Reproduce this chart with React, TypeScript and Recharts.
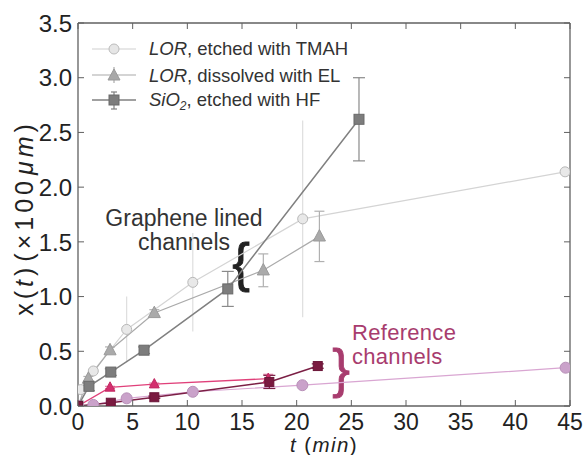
import React from 'react';
import { ComposedChart, Line, XAxis, YAxis, ErrorBar, Customized } from 'recharts';

const xTickValues = [0, 5, 10, 15, 20, 25, 30, 35, 40, 45];
const yTickValues = [0, 0.5, 1, 1.5, 2, 2.5, 3, 3.5];
const yTickLabels = ['0.0', '0.5', '1.0', '1.5', '2.0', '2.5', '3.0', '3.5'];

const lorTmahTime = [0.25, 1.4, 4.45, 10.5, 20.55, 44.55];
const lorTmahDist = [0.15, 0.32, 0.7, 1.13, 1.71, 2.14];
const lorTmahErr = [0.02, 0.04, 0.3, 0.45, 0.9, 0];

const lorElTime = [0, 0.95, 2.93, 6.98, 16.95, 22.08];
const lorElDist = [0, 0.25, 0.51, 0.85, 1.24, 1.55];
const lorElErr = [0, 0.02, 0.03, 0.03, 0.15, 0.23];

const sio2HfTime = [0, 1.0, 3.0, 6.04, 13.7, 25.7];
const sio2HfDist = [0, 0.18, 0.31, 0.51, 1.07, 2.62];
const sio2HfErr = [0, 0.04, 0.03, 0.03, 0.16, 0.38];

const refTmahTime = [0, 1.4, 4.45, 10.5, 20.52, 44.6];
const refTmahDist = [0, 0.01, 0.07, 0.13, 0.19, 0.35];
const refTmahErr = [0, 0, 0, 0, 0, 0];

const refElTime = [0, 2.93, 6.98, 17.4];
const refElDist = [0, 0.17, 0.2, 0.25];
const refElErr = [0, 0.01, 0.01, 0.04];

const refHfTime = [0, 3.0, 6.98, 17.5, 21.93];
const refHfDist = [0, 0.03, 0.08, 0.22, 0.365];
const refHfErr = [0, 0, 0.01, 0.06, 0.02];

const toRows = (t: number[], x: number[], e: number[]) =>
  t.map((v, i) => ({ t: v, x: x[i], err: e[i] }));

const lorTmahRows = toRows(lorTmahTime, lorTmahDist, lorTmahErr);
const lorElRows = toRows(lorElTime, lorElDist, lorElErr);
const sio2HfRows = toRows(sio2HfTime, sio2HfDist, sio2HfErr);
const refTmahRows = toRows(refTmahTime, refTmahDist, refTmahErr);
const refElRows = toRows(refElTime, refElDist, refElErr);
const refHfRows = toRows(refHfTime, refHfDist, refHfErr);

const FONT = '"Liberation Sans", Arial, Helvetica, sans-serif';
const AXIS = '#606060';
const TXT = '#222';

const circleDot = (fill: string, stroke: string, r: number) => (p: any) => (
  <circle key={`c${p.index}`} cx={p.cx} cy={p.cy} r={r} fill={fill} stroke={stroke} strokeWidth={1} />
);
const triDot = (fill: string, stroke: string, s: number) => (p: any) => (
  <polygon
    key={`t${p.index}`}
    points={`${p.cx},${p.cy - s * 0.62} ${p.cx - s * 0.55},${p.cy + s * 0.42} ${p.cx + s * 0.55},${p.cy + s * 0.42}`}
    fill={fill}
    stroke={stroke}
    strokeWidth={1}
  />
);
const sqDot = (fill: string, stroke: string, s: number) => (p: any) => (
  <rect key={`s${p.index}`} x={p.cx - s / 2} y={p.cy - s / 2} width={s} height={s} fill={fill} stroke={stroke} strokeWidth={1} />
);

const BottomTick = (p: any) => (
  <g>
    <line x1={p.x} x2={p.x} y1={p.y} y2={p.y - 6} stroke={AXIS} strokeWidth={1} />
    <text x={p.x} y={p.y + 23.5} textAnchor="middle" fontSize={23} fill={TXT} fontFamily={FONT}>
      {p.payload.value}
    </text>
  </g>
);
const TopTick = (p: any) => (
  <line x1={p.x} x2={p.x} y1={p.y} y2={p.y + 6} stroke={AXIS} strokeWidth={1} />
);
const LeftTick = (p: any) => {
  const i = yTickValues.indexOf(p.payload.value);
  return (
    <g>
      <line x1={p.x} x2={p.x + 6} y1={p.y} y2={p.y} stroke={AXIS} strokeWidth={1} />
      <text x={p.x - 6} y={p.y + 8.7} textAnchor="end" fontSize={24} fill={TXT} fontFamily={FONT}>
        {i >= 0 ? yTickLabels[i] : p.payload.value}
      </text>
    </g>
  );
};
const RightTick = (p: any) => (
  <line x1={p.x} x2={p.x - 6} y1={p.y} y2={p.y} stroke={AXIS} strokeWidth={1} />
);

const Annotations = () => (
  <g fontFamily={FONT}>
    {/* axis titles */}
    <text x={324} y={451.5} textAnchor="middle" fontSize={20.5} fill={TXT} letterSpacing={1.4}>
      <tspan fontStyle="italic">t</tspan> (<tspan fontStyle="italic">min</tspan>)
    </text>
    <text x={33} y={218} textAnchor="middle" fontSize={25} fill={TXT} letterSpacing={4} transform="rotate(-90 33 218)">
      x(<tspan fontStyle="italic">t</tspan>)<tspan dx={2}>(×100</tspan><tspan dx={2} fontStyle="italic">μm</tspan>)
    </text>

    {/* legend */}
    <g>
      <line x1={92} x2={136} y1={49} y2={49} stroke="#cfcfcf" strokeWidth={1.2} />
      <circle cx={114} cy={49} r={5} fill="#e6e6e6" stroke="#bcbcbc" />
      <text x={149} y={55} fontSize={18.5} fill="#333">
        <tspan fontStyle="italic">LOR</tspan>, etched with TMAH
      </text>

      <line x1={92} x2={136} y1={75} y2={75} stroke="#aaaaaa" strokeWidth={1.2} />
      <line x1={114} x2={114} y1={67} y2={83} stroke="#aaaaaa" strokeWidth={1.2} />
      <polygon points="114,69 108,80 120,80" fill="#a8a8a8" stroke="#9a9a9a" />
      <text x={149} y={81.5} fontSize={18.5} fill="#333">
        <tspan fontStyle="italic">LOR</tspan>, dissolved with EL
      </text>

      <line x1={92} x2={136} y1={100} y2={100} stroke="#808080" strokeWidth={1.5} />
      <line x1={114} x2={114} y1={92} y2={109} stroke="#808080" strokeWidth={1.2} />
      <line x1={111} x2={117} y1={92} y2={92} stroke="#808080" strokeWidth={1.2} />
      <line x1={111} x2={117} y1={109} y2={109} stroke="#808080" strokeWidth={1.2} />
      <rect x={109} y={95} width={10} height={10} fill="#7d7d7d" stroke="#6a6a6a" />
      <text x={149} y={106} fontSize={18.5} fill="#333">
        <tspan fontStyle="italic">SiO</tspan>
        <tspan fontStyle="italic" fontSize={12} dy={4}>2</tspan>
        <tspan dy={-4}>, etched with HF</tspan>
      </text>
    </g>

    {/* group annotations */}
    <text x={184} y={226} textAnchor="middle" fontSize={23} fill="#333">
      <tspan x={184} y={226}>Graphene lined</tspan>
      <tspan x={184} y={250}>channels</tspan>
    </text>
    <text x={241} y={281} textAnchor="middle" fontSize={53} fill="#222" stroke="#222" strokeWidth={0.8}>{'{'}</text>

    <text x={352} y={340} fontSize={22} fill="#a83c6e" letterSpacing={0.3}>
      <tspan x={352} y={340}>Reference</tspan>
      <tspan x={352} y={364}>channels</tspan>
    </text>
    <text x={341} y={387} textAnchor="middle" fontSize={53} fill="#a83c6e" stroke="#a83c6e" strokeWidth={0.8}>{'}'}</text>
  </g>
);

export default function App() {
  return (
    <div style={{ position: 'absolute', left: 0, top: 0 }}>
      <ComposedChart
        width={587}
        height={455}
        margin={{ top: 22, right: 16, bottom: 0, left: 0 }}
        style={{ fontFamily: FONT }}
      >
        <XAxis
          dataKey="t"
          type="number"
          domain={[0, 45]}
          ticks={xTickValues}
          allowDataOverflow
          height={49}
          tickSize={0}
          tickMargin={0}
          tickLine={false}
          tick={BottomTick}
          axisLine={{ stroke: AXIS, strokeWidth: 1.3 }}
        />
        <XAxis
          xAxisId="top"
          orientation="top"
          dataKey="t"
          type="number"
          domain={[0, 45]}
          ticks={xTickValues}
          allowDataOverflow
          height={1}
          tickSize={0}
          tickMargin={0}
          tickLine={false}
          tick={TopTick}
          axisLine={{ stroke: AXIS, strokeWidth: 1.3 }}
        />
        <YAxis
          type="number"
          domain={[0, 3.5]}
          ticks={yTickValues}
          allowDataOverflow
          width={78}
          tickSize={0}
          tickMargin={0}
          tickLine={false}
          tick={LeftTick}
          axisLine={{ stroke: AXIS, strokeWidth: 1.3 }}
        />
        <YAxis
          yAxisId="right"
          orientation="right"
          type="number"
          domain={[0, 3.5]}
          ticks={yTickValues}
          allowDataOverflow
          width={1}
          tickSize={0}
          tickMargin={0}
          tickLine={false}
          tick={RightTick}
          axisLine={{ stroke: AXIS, strokeWidth: 1.3 }}
        />

        <Line data={lorTmahRows} dataKey="x" stroke="#d4d4d4" strokeWidth={1.2} isAnimationActive={false}
          dot={circleDot('#e8e8e8', '#b8b8b8', 5)} activeDot={false} legendType="none">
          <ErrorBar dataKey="err" width={0} stroke="#dedede" strokeWidth={1.2} direction="y" />
        </Line>
        <Line data={lorElRows} dataKey="x" stroke="#aaaaaa" strokeWidth={1.2} isAnimationActive={false}
          dot={triDot('#aaaaaa', '#9a9a9a', 11)} activeDot={false} legendType="none">
          <ErrorBar dataKey="err" width={5} stroke="#b0b0b0" strokeWidth={1.2} direction="y" />
        </Line>
        <Line data={sio2HfRows} dataKey="x" stroke="#808080" strokeWidth={1.5} isAnimationActive={false}
          dot={sqDot('#7d7d7d', '#6a6a6a', 10)} activeDot={false} legendType="none">
          <ErrorBar dataKey="err" width={6} stroke="#8a8a8a" strokeWidth={1.2} direction="y" />
        </Line>

        <Line data={refTmahRows} dataKey="x" stroke="#d9a6d2" strokeWidth={1.2} isAnimationActive={false}
          dot={circleDot('#caa2ca', '#b890b8', 5.5)} activeDot={false} legendType="none" />
        <Line data={refElRows} dataKey="x" stroke="#e0407a" strokeWidth={1.3} isAnimationActive={false}
          dot={triDot('#d42f6e', '#c22a63', 9)} activeDot={false} legendType="none">
          <ErrorBar dataKey="err" width={5} stroke="#d86a95" strokeWidth={1} direction="y" />
        </Line>
        <Line data={refHfRows} dataKey="x" stroke="#7b1f45" strokeWidth={1.5} isAnimationActive={false}
          dot={sqDot('#7a1a40', '#6a1538', 9)} activeDot={false} legendType="none">
          <ErrorBar dataKey="err" width={6} stroke="#7b1f45" strokeWidth={1.2} direction="y" />
        </Line>

        <Customized component={Annotations} />
      </ComposedChart>
    </div>
  );
}
